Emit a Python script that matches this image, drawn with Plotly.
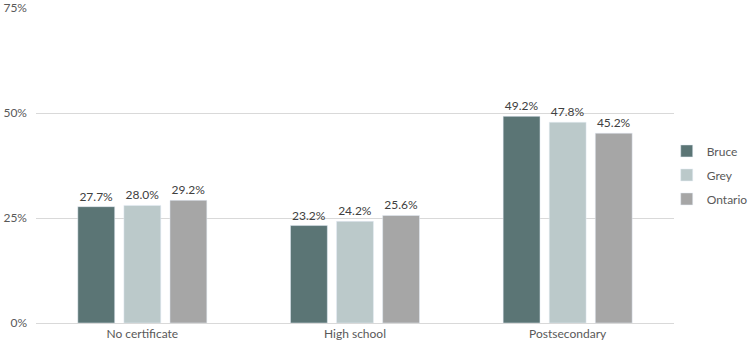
import plotly.graph_objects as go

categories = ["No certificate", "High school", "Postsecondary"]
series_names = ["Bruce", "Grey", "Ontario"]
bruce = [27.7, 23.2, 49.2]
grey = [28.0, 24.2, 47.8]
ontario = [29.2, 25.6, 45.2]
colors = ["#5b7575", "#bbc9ca", "#a6a6a6"]
y_ticks = [0, 25, 50, 75]
y_tick_labels = ["0%", "25%", "50%", "75%"]

fig = go.Figure()
for name, vals, col in zip(series_names, [bruce, grey, ontario], colors):
    fig.add_trace(go.Bar(
        x=categories, y=vals, name=name, marker_color=col, legendgroup=name,
        text=[f"{v:.1f}%" for v in vals], textposition="outside",
        textfont=dict(size=12, color="#404040"), cliponaxis=False,
    ))

fig.update_layout(
    width=750, height=349,
    margin=dict(l=36, r=76, t=8, b=26, autoexpand=False),
    paper_bgcolor="white", plot_bgcolor="white",
    font=dict(family="Lato, Carlito, Calibri, sans-serif", size=12, color="#595959"),
    barmode="group", bargap=0.35, bargroupgap=0.2,
    showlegend=True,
    legend=dict(x=0.9886, y=0.47, yanchor="middle", xanchor="left",
                font=dict(size=12, color="#595959"), itemwidth=30,
                tracegroupgap=5, traceorder="grouped", bgcolor="rgba(0,0,0,0)"),
    yaxis=dict(range=[0, 75], tickvals=y_ticks, ticktext=y_tick_labels,
               showgrid=True, gridcolor="#d9d9d9", gridwidth=1, zeroline=False,
               showline=False, ticks="", ticklabelstandoff=8),
    xaxis=dict(showline=True, linecolor="#d9d9d9", ticks="", showgrid=False),
)
fig.write_html("out.html")
